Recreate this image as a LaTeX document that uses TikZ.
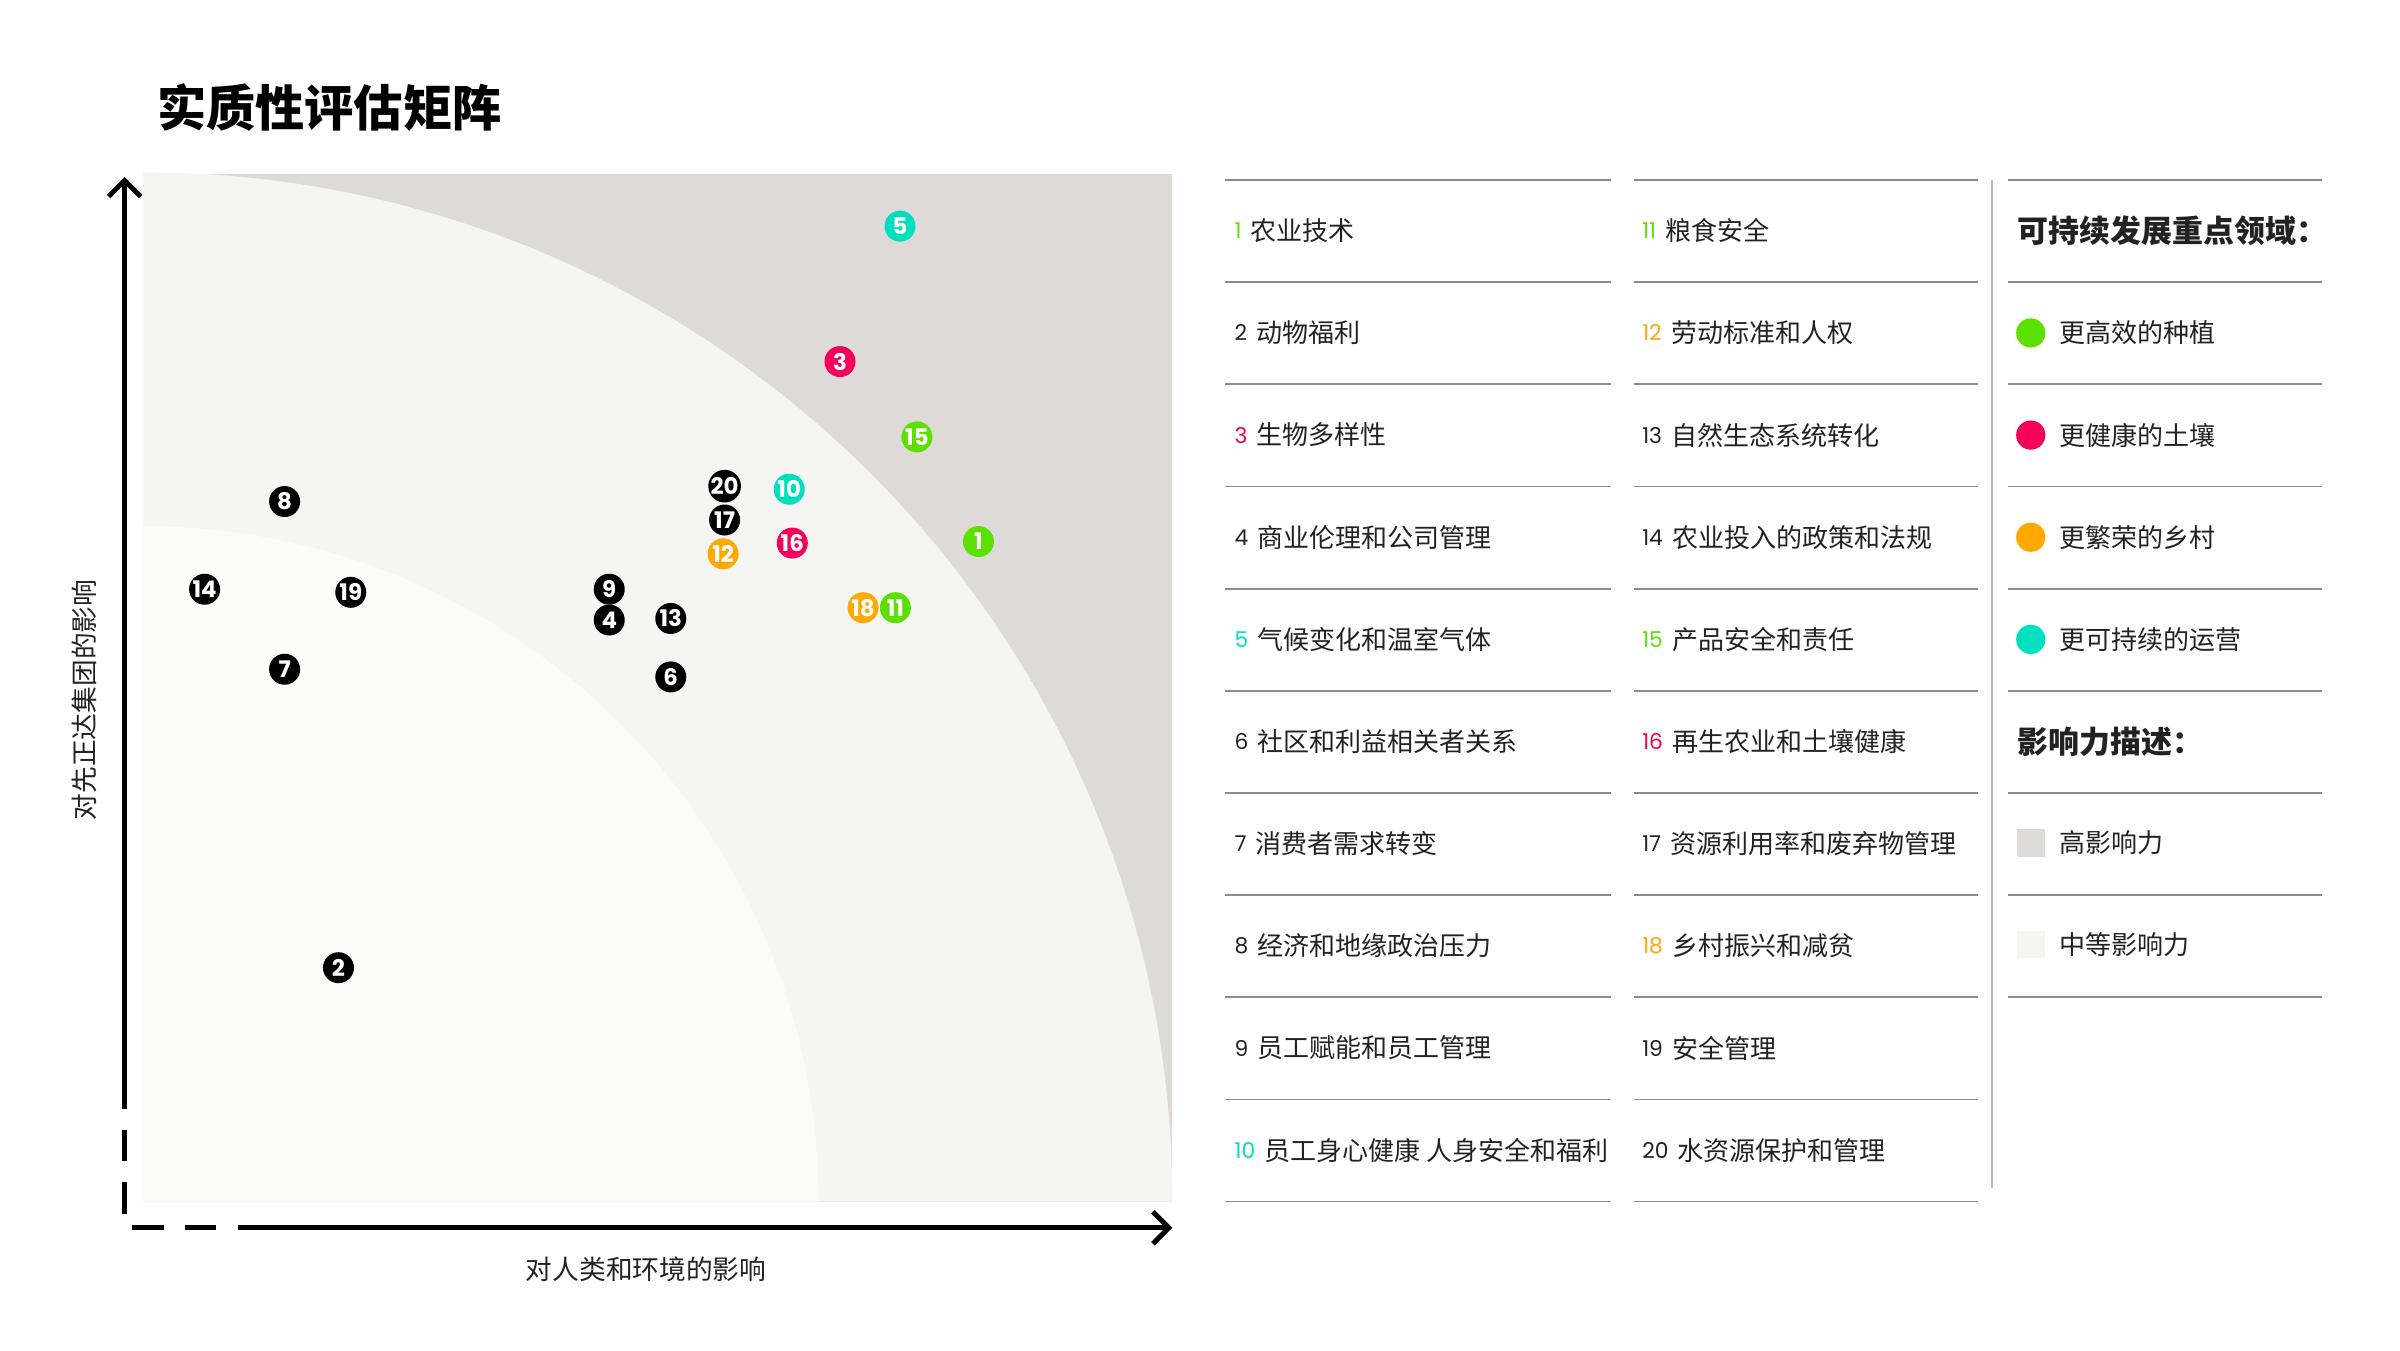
\documentclass[tikz,border=0pt]{standalone}
\usepackage{fontspec}
\setmainfont{Poppins}
\newfontfamily\cjk{Noto Sans CJK SC}
\usetikzlibrary{arrows.meta}
\definecolor{cgreen}{HTML}{5CE000}
\definecolor{cpink}{HTML}{F5005A}
\definecolor{corange}{HTML}{FFA800}
\definecolor{cteal}{HTML}{00E0C0}
\definecolor{chigh}{HTML}{DEDAD7}
\definecolor{cmid}{HTML}{F5F5F3}
\definecolor{clow}{HTML}{FBFBFA}
\definecolor{cline}{HTML}{8C8C8C}
\definecolor{ctext}{HTML}{222222}
\tikzset{
  bubble/.style={circle,fill=#1,text=white,inner sep=0pt,minimum size=0.31cm,
    font=\fontsize{6.5}{7}\selectfont\bfseries},
  item/.style={anchor=west,text=ctext,inner sep=0pt,font=\fontsize{7.4}{9}\selectfont\cjk},
  num/.style={anchor=west,inner sep=0pt,text=#1,font=\fontsize{6.2}{7}\selectfont},
  rule/.style={cline,line width=0.5pt},
  axis/.style={line width=1.4pt,-{Straight Barb[length=1.6mm,width=3.2mm]}}
}
\begin{document}
\begin{tikzpicture}[x=0.015385cm,y=-0.015385cm]
    \useasboundingbox (0,0) rectangle (1560,877.5);
    % impact zones
    \fill[chigh] (93,113) rectangle (762,781);
    \fill[cmid] (93,781) -- (762,781) arc[start angle=0,end angle=-90,radius=669] -- cycle;
    \fill[clow] (93,781) -- (532,781) arc[start angle=0,end angle=-90,radius=439] -- cycle;
    % axes
    \coordinate (ytop) at (81,115);
    \coordinate (ymid) at (81,700);
    \coordinate (orig) at (81,798);
    \coordinate (xmid) at (175,798);
    \coordinate (xend) at (762,798);
    \draw[axis] (ymid) -- (ytop);
    \draw[axis] (xmid) -- (xend);
    \draw[line width=1.4pt,dash pattern=on 9pt off 6pt] (ymid) -- (orig) -- (xmid);
    \node[text=ctext,font=\fontsize{7.6}{9}\selectfont\cjk] (xlab) at (420,825) {对人类和环境的影响};
    \node[text=ctext,rotate=90,font=\fontsize{7.6}{9}\selectfont\cjk] (ylab) at (55,455) {对先正达集团的影响};
    \node[anchor=west,font=\fontsize{14}{16}\selectfont\cjk\bfseries] (title) at (94,70) {实质性评估矩阵};
    % topics
    \foreach \n/\c/\px/\py in {5/cteal/585/147, 3/cpink/546/235, 15/cgreen/596/284,
        20/black/471/316, 10/cteal/513/318, 17/black/471/338, 12/corange/470/360,
        16/cpink/515/353, 1/cgreen/636/352, 8/black/185/326, 14/black/133/383,
        19/black/228/385, 9/black/396/383, 4/black/396/403, 13/black/436/402,
        7/black/185/435, 6/black/436/440, 18/corange/561/395, 11/cgreen/582/395,
        2/black/220/629}
      \node[bubble=\c] (t\n) at (\px,\py) {\n};
    % list
    \foreach \k in {0,...,10} {
      \draw[rule] (796,117+66.4*\k) -- (1047,117+66.4*\k);
      \draw[rule] (1062,117+66.4*\k) -- (1286,117+66.4*\k);
    }
    \foreach \k in {0,...,8}
      \draw[rule] (1305,117+66.4*\k) -- (1509,117+66.4*\k);
    \draw[cline!60,line width=0.5pt] (1295,117) -- (1295,772);
    \foreach \n/\c/\t [count=\k from 0] in {1/cgreen/农业技术, 2/ctext/动物福利, 3/cpink/生物多样性,
        4/ctext/商业伦理和公司管理, 5/cteal/气候变化和温室气体, 6/ctext/社区和利益相关者关系,
        7/ctext/消费者需求转变, 8/ctext/经济和地缘政治压力, 9/ctext/员工赋能和员工管理,
        10/cteal/员工身心健康 人身安全和福利} {
      \node[num=\c] (n\n) at (802,150+66.4*\k) {\n};
      \node[item] (l\n) at ([xshift=0.08cm]n\n.east) {\t};
    }
    \foreach \n/\c/\t [count=\k from 0] in {11/cgreen/粮食安全, 12/corange/劳动标准和人权, 13/ctext/自然生态系统转化,
        14/ctext/农业投入的政策和法规, 15/cgreen/产品安全和责任, 16/cpink/再生农业和土壤健康,
        17/ctext/资源利用率和废弃物管理, 18/corange/乡村振兴和减贫, 19/ctext/安全管理,
        20/ctext/水资源保护和管理} {
      \node[num=\c] (n\n) at (1067,150+66.4*\k) {\n};
      \node[item] (l\n) at ([xshift=0.08cm]n\n.east) {\t};
    }
    % legend
    \node[item,font=\fontsize{8.8}{11}\selectfont\cjk\bfseries] (hfocus) at (1311,150) {可持续发展重点领域：};
    \foreach \c/\t [count=\k] in {cgreen/更高效的种植, cpink/更健康的土壤, corange/更繁荣的乡村, cteal/更可持续的运营} {
      \fill[\c] (1320,150+66.4*\k) circle (9.5);
      \node[item] (f\k) at (1338,150+66.4*\k) {\t};
    }
    \node[item,font=\fontsize{8.8}{11}\selectfont\cjk\bfseries] (himpact) at (1311,482) {影响力描述：};
    \fill[chigh] (1311,539) rectangle (1329,557);
    \node[item] (ihigh) at (1338,548) {高影响力};
    \fill[cmid] (1311,605) rectangle (1329,623);
    \node[item] (imid) at (1338,614) {中等影响力};
\end{tikzpicture}
\end{document}
